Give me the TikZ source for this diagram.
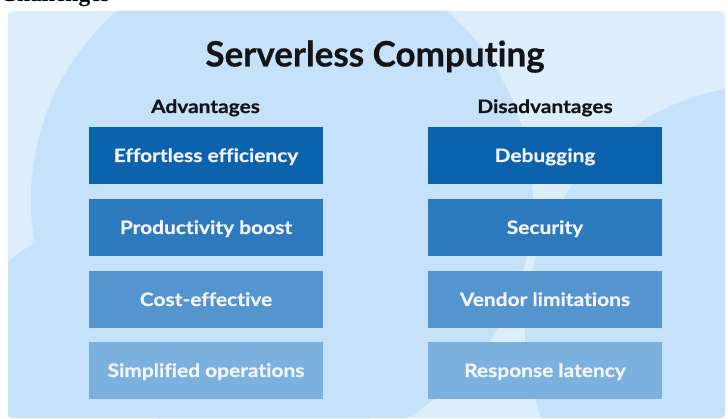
\documentclass[tikz,border=0pt]{standalone}
\usepackage{fontspec}
\setmainfont{Lato}[Ligatures=NoCommon, Contextuals=NoAlternate, BoldFeatures={FakeBold=0.5}]
\newfontfamily\smallfont{Lato}[Ligatures=NoCommon, Contextuals=NoAlternate, FakeStretch=1.13, BoldFeatures={FakeBold=0.5}]
\newfontfamily\seriffont{Liberation Serif}
\definecolor{bgLight}{HTML}{DCEDFC}
\definecolor{bgDark}{HTML}{C6E2FA}
\definecolor{rowA}{HTML}{0B62AD}
\definecolor{rowB}{HTML}{2D7ABF}
\definecolor{rowC}{HTML}{5595CF}
\definecolor{rowD}{HTML}{7BB1DF}
\definecolor{titlecol}{HTML}{141414}
\begin{document}
\begin{tikzpicture}[x=1pt,y=-1pt,
  item/.style={rectangle, minimum width=234pt, minimum height=57pt, inner sep=0pt,
    text height=13pt, text depth=0pt, text=white!96!blue,
    font=\smallfont\bfseries\fontsize{18.5}{22}\selectfont},
  head/.style={anchor=base, inner sep=0pt, text=titlecol, font=\smallfont\bfseries\fontsize{18.5}{22}\selectfont},
  title/.style={anchor=base, inner sep=0pt, text=titlecol, font=\bfseries\fontsize{35}{40}\selectfont}]
\useasboundingbox (0,0) rectangle (728,419);
\fill[white] (0,0) rectangle (728,419);
% cropped heading fragment
\node[anchor=base west, inner sep=0pt, font=\seriffont\bfseries\fontsize{23.5}{26}\selectfont] (frag) at (0,2) {Challenges};
% panel
\begin{scope}
  \path[clip, rounded corners=4pt] (8,11) rectangle (725,418);
  \fill[bgLight] (0,0) rectangle (728,419);
  \fill[bgDark] (282,200) circle[radius=251pt];
  \fill[bgDark] (150,430) circle[radius=220pt];
  \fill[bgDark] (770,330) circle[radius=245pt];
\end{scope}
% title and headers
\node[title] (ttl) at (375,66.5) {Serverless Computing};
\node[head] (hadv) at (205.5,113) {Advantages};
\node[head] (hdis) at (545,113) {Disadvantages};
% advantage boxes
\node[item, fill=rowA] (a1) at (206,155.5) {Effortless efficiency};
\node[item, fill=rowB] (a2) at (206,227.5) {Productivity boost};
\node[item, fill=rowC] (a3) at (206,299.5) {Cost-effective};
\node[item, fill=rowD] (a4) at (206,370.5) {Simplified operations};
% disadvantage boxes
\node[item, fill=rowA] (d1) at (545,155.5) {Debugging};
\node[item, fill=rowB] (d2) at (545,227.5) {Security};
\node[item, fill=rowC] (d3) at (545,299.5) {Vendor limitations};
\node[item, fill=rowD] (d4) at (545,370.5) {Response latency};
\end{tikzpicture}
\end{document}
